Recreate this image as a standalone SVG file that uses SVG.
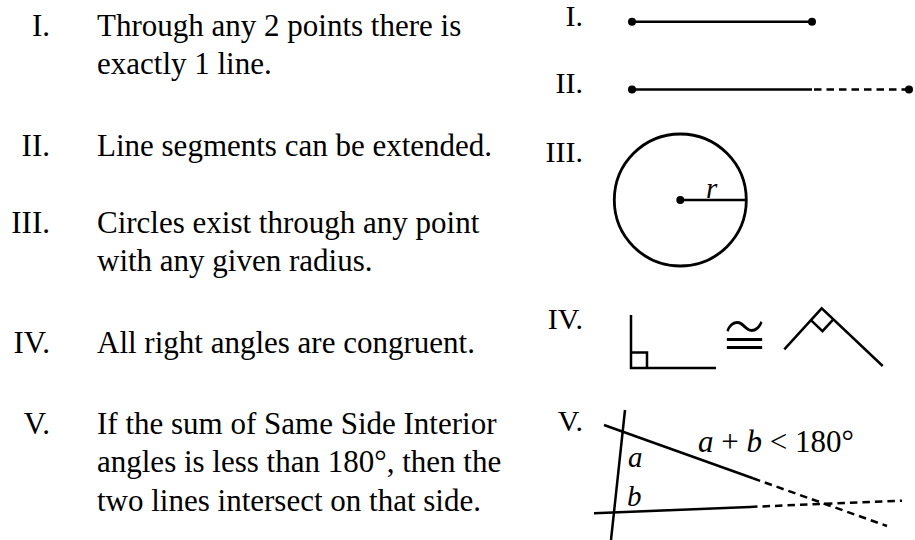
<svg xmlns="http://www.w3.org/2000/svg" width="915" height="540" viewBox="0 0 915 540">
<style>
.t{font-family:"Liberation Serif","Times New Roman",serif;font-size:31px;fill:#000}
.lbl{font-family:"Liberation Serif","Times New Roman",serif;font-size:31px;fill:#000;text-anchor:end}
.rl{font-family:"Liberation Serif","Times New Roman",serif;font-size:30px;fill:#000;text-anchor:end}
.it{font-family:"Liberation Serif","Times New Roman",serif;font-style:italic;font-size:29px;fill:#000}
.ln{stroke:#000;stroke-width:2.5;fill:none;stroke-linecap:butt}
.ds{stroke:#000;stroke-width:2.5;fill:none;stroke-dasharray:7.5 5}
.dt{fill:#000}
</style>
<rect width="915" height="540" fill="#fff"/>
<g id="text-left">
<text class="lbl" x="50" y="36">I.</text>
<text class="t" x="97" y="36">Through any 2 points there is</text>
<text class="t" x="97" y="74">exactly 1 line.</text>
<text class="lbl" x="50" y="156">II.</text>
<text class="t" x="97" y="156">Line segments can be extended.</text>
<text class="lbl" x="50" y="233">III.</text>
<text class="t" x="97" y="233">Circles exist through any point</text>
<text class="t" x="97" y="271">with any given radius.</text>
<text class="lbl" x="50" y="353">IV.</text>
<text class="t" x="97" y="353">All right angles are congruent.</text>
<text class="lbl" x="50" y="434">V.</text>
<text class="t" x="97" y="434">If the sum of Same Side Interior</text>
<text class="t" x="97" y="472">angles is less than 180°, then the</text>
<text class="t" x="97" y="511">two lines intersect on that side.</text>
</g>
<g id="fig-I">
<text class="rl" x="583" y="26">I.</text>
<line class="ln" x1="632" y1="21.7" x2="812" y2="21.7"/>
<circle class="dt" cx="632" cy="21.7" r="4"/>
<circle class="dt" cx="812" cy="21.7" r="4"/>
</g>
<g id="fig-II">
<text class="rl" x="583" y="93">II.</text>
<line class="ln" x1="632" y1="89.5" x2="812" y2="89.5"/>
<line class="ds" x1="814" y1="89.5" x2="906" y2="89.5"/>
<circle class="dt" cx="632" cy="89.5" r="4"/>
<circle class="dt" cx="909" cy="89.5" r="4"/>
</g>
<g id="fig-III">
<text class="rl" x="583" y="162">III.</text>
<circle cx="680.3" cy="200" r="66" fill="none" stroke="#000" stroke-width="2.8"/>
<line class="ln" x1="680.3" y1="200" x2="746" y2="200"/>
<circle class="dt" cx="680.3" cy="200" r="4"/>
<text class="it" x="706" y="198">r</text>
</g>
<g id="fig-IV">
<text class="rl" x="583" y="329">IV.</text>
<polyline class="ln" points="631,315 631,368 716,368" stroke-width="2.8"/>
<polyline class="ln" points="631,352.5 647,352.5 647,368"/>
<text transform="translate(720.6,358) scale(1,1.3)" x="0" y="0" font-family="Noto Sans CJK JP, sans-serif" font-weight="300" font-size="48">≅</text>
<polyline class="ln" points="784.3,349.3 821.7,308.3 882.7,366"/>
<polyline class="ln" points="810.9,320.1 822.5,331.1 833.3,319.3"/>
</g>
<g id="fig-V">
<text class="rl" x="583" y="431">V.</text>
<line class="ln" x1="625" y1="410" x2="611" y2="540"/>
<line class="ln" x1="604" y1="425" x2="753" y2="478.3"/>
<line class="ds" x1="753" y1="478.3" x2="887" y2="526"/>
<line class="ln" x1="594" y1="513.3" x2="750" y2="506.9"/>
<line class="ds" x1="750" y1="506.9" x2="902" y2="500.7"/>
<text class="it" x="628" y="467">a</text>
<text class="it" x="627" y="506">b</text>
<text class="t" x="698" y="452"><tspan font-style="italic">a</tspan> + <tspan font-style="italic">b</tspan> &lt; 180°</text>
</g>
</svg>
